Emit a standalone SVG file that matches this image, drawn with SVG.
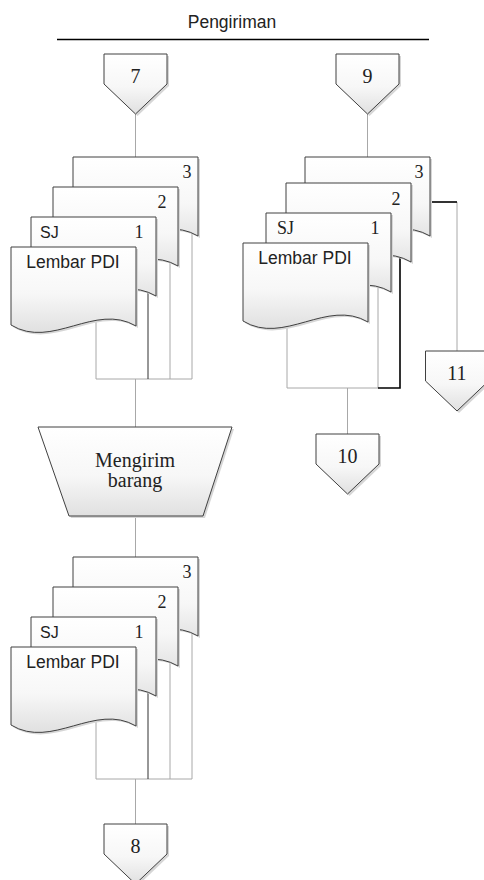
<svg xmlns="http://www.w3.org/2000/svg" xmlns:xlink="http://www.w3.org/1999/xlink" width="484" height="880" viewBox="0 0 484 880">
<style>
.shape{fill:url(#g);stroke:#404040;stroke-width:1}
.shadow{fill:#d6d6d6;stroke:none}
.sans{font-family:"Liberation Sans","Open Sans",sans-serif;fill:#222}
.serif{font-family:"Liberation Serif","DejaVu Serif",serif;fill:#222}
.gl{fill:none;stroke:#a8a8a8;stroke-width:1}
.dl{fill:none;stroke:#303030;stroke-width:1}
.bl{fill:none;stroke:#000;stroke-width:1.6}
.num{font-size:18px;text-anchor:middle}
.cn{font-size:20px;text-anchor:middle}
.pdi{font-size:17.5px;text-anchor:middle}
</style>
<defs>
<linearGradient id="g" x1="0" y1="0" x2="0" y2="1">
<stop offset="0" stop-color="#ffffff"/>
<stop offset="0.55" stop-color="#f7f7f7"/>
<stop offset="1" stop-color="#e0e0e0"/>
</linearGradient>
<path id="doc" d="M0,0 H125 V79 C84,55 41,103 0,78 Z"/>
<path id="off" d="M0,0 H63 V30 L31.5,60 L0,30 Z"/>
</defs>
<rect width="484" height="880" fill="#fff"/>

<g id="title">
<text class="sans" x="232" y="28" font-size="17.5" text-anchor="middle">Pengiriman</text>
<line x1="57" y1="39.5" x2="429" y2="39.5" stroke="#000" stroke-width="1.5"/>
</g>

<g id="connectors">
<path class="gl" d="M135.5,114 V157"/>
<path class="gl" d="M135.5,379 V427"/>
<path class="gl" d="M135.5,516 V557"/>
<path class="gl" d="M135.5,779 V824"/>
<path class="gl" d="M367.5,114 V157"/>
<path class="gl" d="M347.5,388 V434"/>
<path class="gl" d="M457,202 V351"/>
<path class="bl" d="M429,202 H457"/>
<path class="gl" d="M96,310 V379 H192 V230"/>
<path class="gl" d="M170,260 V379"/>
<path class="dl" d="M148,285 V379"/>
<path class="gl" d="M96,710 V779 H192 V630"/>
<path class="gl" d="M170,660 V779"/>
<path class="dl" d="M148,685 V779"/>
<path class="gl" d="M287,320 V388 H378 V280"/>
<path class="bl" d="M400,255 V388 H378"/>
</g>

<g id="node-7">
<use href="#off" class="shadow" x="106" y="56"/>
<use href="#off" class="shape" x="104" y="54"/>
<text class="serif cn" x="135.5" y="83">7</text>
</g>
<g id="node-9">
<use href="#off" class="shadow" x="338" y="56"/>
<use href="#off" class="shape" x="336" y="54"/>
<text class="serif cn" x="367.5" y="83">9</text>
</g>

<g id="stack-top-left">
<g id="doc-tl-3"><use href="#doc" class="shadow" x="75" y="159"/><use href="#doc" class="shape" x="73" y="157"/><text class="serif num" x="187" y="178">3</text></g>
<g id="doc-tl-2"><use href="#doc" class="shadow" x="55" y="189"/><use href="#doc" class="shape" x="53" y="187"/><text class="serif num" x="162" y="208">2</text></g>
<g id="doc-tl-1"><use href="#doc" class="shadow" x="33" y="219"/><use href="#doc" class="shape" x="31" y="217"/><text class="sans" x="40" y="238" font-size="16">SJ</text><text class="serif num" x="139" y="238">1</text></g>
<g id="doc-tl-pdi"><use href="#doc" class="shadow" x="13" y="249"/><use href="#doc" class="shape" x="11" y="247"/><text class="sans pdi" x="73" y="268">Lembar PDI</text></g>
</g>

<g id="stack-right">
<g id="doc-r-3"><use href="#doc" class="shadow" x="307" y="159"/><use href="#doc" class="shape" x="305" y="157"/><text class="serif num" x="419" y="178">3</text></g>
<g id="doc-r-2"><use href="#doc" class="shadow" x="288" y="185"/><use href="#doc" class="shape" x="286" y="183"/><text class="serif num" x="396" y="205">2</text></g>
<g id="doc-r-1"><use href="#doc" class="shadow" x="268" y="215"/><use href="#doc" class="shape" x="266" y="213"/><text class="serif" x="277" y="234" font-size="18">SJ</text><text class="serif num" x="375" y="234">1</text></g>
<g id="doc-r-pdi"><use href="#doc" class="shadow" x="245" y="245"/><use href="#doc" class="shape" x="243" y="243"/><text class="sans pdi" x="305" y="264">Lembar PDI</text></g>
</g>

<g id="node-mengirim">
<path class="shadow" d="M40,429 H234 L205,518 H71 Z"/>
<path class="shape" d="M38,427 H232 L203,516 H69 Z"/>
<text class="serif" x="135" y="467" font-size="20" text-anchor="middle">Mengirim</text>
<text class="serif" x="135" y="487" font-size="20" text-anchor="middle">barang</text>
</g>

<g id="stack-bottom-left">
<g id="doc-bl-3"><use href="#doc" class="shadow" x="75" y="559"/><use href="#doc" class="shape" x="73" y="557"/><text class="serif num" x="187" y="578">3</text></g>
<g id="doc-bl-2"><use href="#doc" class="shadow" x="55" y="589"/><use href="#doc" class="shape" x="53" y="587"/><text class="serif num" x="162" y="608">2</text></g>
<g id="doc-bl-1"><use href="#doc" class="shadow" x="33" y="619"/><use href="#doc" class="shape" x="31" y="617"/><text class="sans" x="40" y="638" font-size="16">SJ</text><text class="serif num" x="139" y="638">1</text></g>
<g id="doc-bl-pdi"><use href="#doc" class="shadow" x="13" y="649"/><use href="#doc" class="shape" x="11" y="647"/><text class="sans pdi" x="73" y="668">Lembar PDI</text></g>
</g>

<g id="node-10">
<use href="#off" class="shadow" x="318" y="436"/>
<use href="#off" class="shape" x="316" y="434"/>
<text class="serif cn" x="347.5" y="463">10</text>
</g>
<g id="node-11">
<use href="#off" class="shadow" x="427.5" y="353"/>
<use href="#off" class="shape" x="425.5" y="351"/>
<text class="serif cn" x="457" y="380">11</text>
</g>
<g id="node-8">
<use href="#off" class="shadow" x="106" y="826"/>
<use href="#off" class="shape" x="104" y="824"/>
<text class="serif cn" x="135.5" y="853">8</text>
</g>
</svg>
